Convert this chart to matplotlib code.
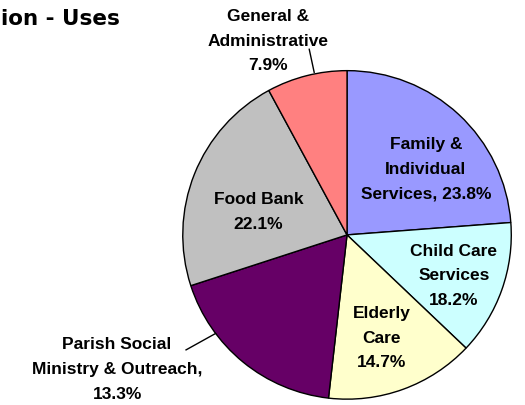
import matplotlib
matplotlib.use('Agg')
import matplotlib.pyplot as plt

# data (wedge sizes as drawn in the chart, clockwise from the top)
valores = [23.8, 13.3, 14.7, 18.2, 22.1, 7.9]
colores = ['#9999FF', '#CCFFFF', '#FFFFCC', '#660066', '#C0C0C0', '#FF8080']
etiquetas = ['Family &\nIndividual\nServices, 23.8%', 'Child Care\nServices\n18.2%',
             'Elderly\nCare\n14.7%', 'Parish Social\nMinistry & Outreach,\n13.3%',
             'Food Bank\n22.1%', 'General &\nAdministrative\n7.9%']
titulo = 'ion - Uses'

# label placement (pie radius = 1)
pos_texto = [(0.48, 0.40), (0.65, -0.25), (0.21, -0.63),
             (-1.40, -0.82), (-0.54, 0.14), (-0.48, 1.18)]
lineas = {3: ((-0.98, -0.70), (-0.80, -0.60)),
          5: ((-0.23, 1.13), (-0.20, 0.99))}

fig = plt.figure(figsize=(5.25, 4.05), dpi=100)
ax = fig.add_axes([0.345, 0.01, 0.632, 0.82])

ax.pie(valores, colors=colores, startangle=90, counterclock=False,
       wedgeprops=dict(edgecolor='black', linewidth=1))
ax.set_aspect('equal')
ax.set_xlim(-1.01, 1.01)
ax.set_ylim(-1.01, 1.01)

for i, txt in enumerate(etiquetas):
    x, y = pos_texto[i]
    ax.text(x, y, txt, ha='center', va='center', fontsize=12.5,
            fontweight='bold', family='Liberation Sans', linespacing=1.8,
            clip_on=False)
for i, (a, b) in lineas.items():
    ax.plot([a[0], b[0]], [a[1], b[1]], color='black', linewidth=1, clip_on=False)

fig.text(0.002, 0.938, titulo, ha='left', va='baseline',
         fontsize=15.5, fontweight='bold', family='DejaVu Sans')

fig.savefig('out.png', dpi=100)
